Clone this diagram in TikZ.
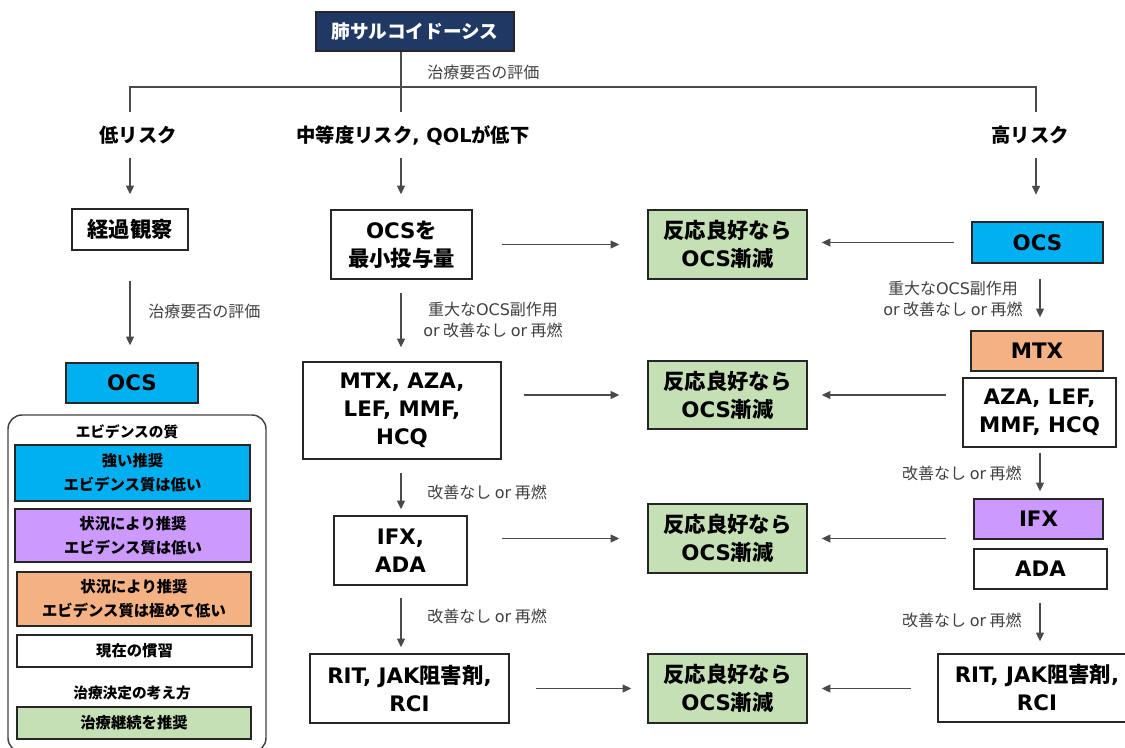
\documentclass[tikz,border=0pt]{standalone}
\usepackage{fontspec}
\setmainfont{Noto Sans CJK JP}
\newfontfamily\ltnfont{DejaVu Sans}
\newcommand\ltn[1]{{\ltnfont #1}}
\usetikzlibrary{arrows.meta}
\definecolor{navy}{HTML}{203864}
\definecolor{cyanc}{HTML}{00B0F0}
\definecolor{purplec}{HTML}{CC99FF}
\definecolor{orangec}{HTML}{F4B183}
\definecolor{greenc}{HTML}{C5E0B4}
\definecolor{bord}{HTML}{262626}
\definecolor{linec}{HTML}{4A4A4A}
\definecolor{labgray}{HTML}{404040}
\newcommand\mkbox[7]{\node[#6, minimum width={(#4-#2)*0.75pt}, minimum height={(#5-#3)*0.75pt}] (#1) at ({(#2+#4)/2},{(#3+#5)/2}) {#7};}
\tikzset{
  box/.style={draw=bord, line width=1.1pt, inner sep=0pt, align=center, font=\bfseries\fontsize{16}{21}\selectfont},
  wbox/.style={box, fill=white},
  cbox/.style={box, fill=cyanc},
  pbox/.style={box, fill=purplec},
  obox/.style={box, fill=orangec},
  gbox/.style={box, fill=greenc},
  legbox/.style={box, line width=1pt, font=\bfseries\fontsize{11.5}{18}\selectfont},
  titlebox/.style={box, fill=navy, text=white, draw=bord, font=\bfseries\fontsize{14}{18}\selectfont},
  lbl/.style={font=\fontsize{12}{16}\selectfont, text=labgray, inner sep=0pt, align=center},
  head/.style={font=\bfseries\fontsize{14.5}{18}\selectfont, inner sep=0pt, minimum height={46*0.75pt}},
  leghead/.style={font=\bfseries\fontsize{11}{14}\selectfont, inner sep=0pt},
  conn/.style={draw=linec, line width=0.8pt},
  arr/.style={conn, -{Triangle[length=6.5pt, width=6pt]}},
}
\begin{document}
\begin{tikzpicture}[x=0.75pt, y=-0.75pt]
\useasboundingbox (0,0) rectangle (1125,747);

% title and tree
\mkbox{title}{316}{12}{514}{51}{titlebox}{肺サルコイドーシス}
\node[lbl, anchor=west] (sub) at (427,72) {治療要否の評価};
\node[head] (L1) at (138,135) {低リスク};
\node[head] (L2) at (413,135) {中等度リスク\ltn{, QOL}が低下};
\node[head] (L3) at (1030,135) {高リスク};
\coordinate (j) at (401,87);
\coordinate (lj) at (130,87);
\coordinate (rj) at (1036,87);
\coordinate (rc) at (1040,300);
\draw[conn] (j |- title.south) -- (j |- L2.north);
\draw[conn] (lj |- L1.north) -- (lj) -- (rj) -- (rj |- L3.north);

% left column
\mkbox{obs}{72}{209}{188}{250}{wbox}{経過観察}
\mkbox{locs}{66}{363}{198}{403}{cbox}{\ltn{OCS}}
\draw[arr, shorten >=10.5pt] (lj |- L1.south) -- (lj |- obs.north);
\draw[arr, shorten <=22.5pt, shorten >=12.75pt] (lj |- obs.south) -- (lj |- locs.north);
\node[lbl, anchor=west] (lsub) at (148,311) {治療要否の評価};

% legend
\draw[draw=labgray, line width=1.1pt, rounded corners=10.5pt] (8,415) rectangle (266,752);
\node[leghead] (lh1) at (127,432) {エビデンスの質};
\mkbox{lb1}{15}{445}{250}{501}{legbox, fill=cyanc}{強い推奨\\エビデンス質は低い}
\mkbox{lb2}{15}{509}{251}{562}{legbox, fill=purplec}{状況により推奨\\エビデンス質は低い}
\mkbox{lb3}{17}{572}{251}{626}{legbox, fill=orangec}{状況により推奨\\エビデンス質は極めて低い}
\mkbox{lb4}{17}{635}{252}{667}{legbox, fill=white}{現在の慣習}
\node[leghead] (lh2) at (132,693) {治療決定の考え方};
\mkbox{lb5}{17}{707}{251}{739}{legbox, fill=greenc}{治療継続を推奨}

% middle column
\mkbox{mocs}{331}{210}{472}{279}{wbox}{\ltn{OCS}を\\最小投与量}
\mkbox{m2}{303}{362}{501}{459}{wbox}{\ltn{MTX, AZA,}\\\ltn{LEF, MMF,}\\\ltn{HCQ}}
\mkbox{ifx}{334}{516}{467}{585}{wbox}{\ltn{IFX,}\\\ltn{ADA}}
\mkbox{rit}{310}{654}{509}{723}{wbox}{\ltn{RIT, JAK}阻害剤\ltn{,}\\\ltn{RCI}}
\draw[arr, shorten >=11.25pt] (j |- L2.south) -- (j |- mocs.north);
\draw[arr, shorten <=9.75pt, shorten >=10.5pt] (j |- mocs.south) -- (j |- m2.north);
\node[lbl] (ml1) at (493,320) {重大な\ltn{OCS}副作用\\\ltn{or} 改善なし \ltn{or} 再燃};
\draw[arr, shorten <=9.75pt, shorten >=4.5pt] (j |- m2.south) -- (j |- ifx.north);
\node[lbl, anchor=west] (ml2) at (427,492) {改善なし \ltn{or} 再燃};
\draw[arr, shorten <=9pt, shorten >=4.5pt] (j |- ifx.south) -- (j |- rit.north);
\node[lbl, anchor=west] (ml3) at (427,616) {改善なし \ltn{or} 再燃};

% green boxes
\mkbox{g1}{648}{210}{807}{279}{gbox}{反応良好なら\\\ltn{OCS}漸減}
\mkbox{g2}{648}{361}{807}{429}{gbox}{反応良好なら\\\ltn{OCS}漸減}
\mkbox{g3}{648}{504}{807}{573}{gbox}{反応良好なら\\\ltn{OCS}漸減}
\mkbox{g4}{648}{654}{807}{723}{gbox}{反応良好なら\\\ltn{OCS}漸減}
\draw[arr, shorten <=21.75pt, shorten >=21pt] (mocs.east) -- (g1.west);
\draw[arr, shorten <=16.5pt, shorten >=21pt] (m2.east |- g2.west) -- (g2.west);
\draw[arr, shorten <=25.5pt, shorten >=21pt] (ifx.east |- g3.west) -- (g3.west);
\draw[arr, shorten <=19.5pt, shorten >=12pt] (rit.east) -- (g4.west);

% right column
\mkbox{rocs}{972}{222}{1103}{263}{cbox}{\ltn{OCS}}
\mkbox{mtx}{971}{331}{1103}{371}{obox}{\ltn{MTX}}
\mkbox{aza}{963}{378}{1116}{447}{wbox}{\ltn{AZA, LEF,}\\\ltn{MMF, HCQ}}
\mkbox{rifx}{974}{499}{1103}{539}{pbox}{\ltn{IFX}}
\mkbox{ada}{974}{549}{1107}{589}{wbox}{\ltn{ADA}}
\mkbox{rrit}{938}{654}{1136}{722}{wbox}{\ltn{RIT, JAK}阻害剤\ltn{,}\\\ltn{RCI}}
\draw[arr, shorten >=20pt] (rj |- L3.south) -- (rj |- rocs.north);
\draw[arr, shorten <=11.25pt, shorten >=9.75pt] (rc |- rocs.south) -- (rc |- mtx.north);
\node[lbl, anchor=east] (rl1) at (1023,299) {重大な\ltn{OCS}副作用\\\ltn{or} 改善なし \ltn{or} 再燃};
\draw[arr, shorten <=3.75pt, shorten >=5.25pt] (rc |- aza.south) -- (rc |- rifx.north);
\node[lbl, anchor=east] (rl2) at (1022,473) {改善なし \ltn{or} 再燃};
\draw[arr, shorten <=9.75pt, shorten >=9pt] (rc |- ada.south) -- (rc |- rrit.north);
\node[lbl, anchor=east] (rl3) at (1022,620) {改善なし \ltn{or} 再燃};
\draw[arr, shorten <=12.75pt, shorten >=10.5pt] (rocs.west) -- (rocs.west -| g1.east);
\draw[arr, shorten <=12pt, shorten >=10.5pt] (aza.west |- g2.east) -- (g2.east);
\draw[arr, shorten <=20.25pt, shorten >=10.5pt] (rifx.west |- g3.east) -- (g3.east);
\draw[arr, shorten <=19.5pt, shorten >=10.5pt] (rrit.west |- g4.east) -- (g4.east);
\end{tikzpicture}
\end{document}
